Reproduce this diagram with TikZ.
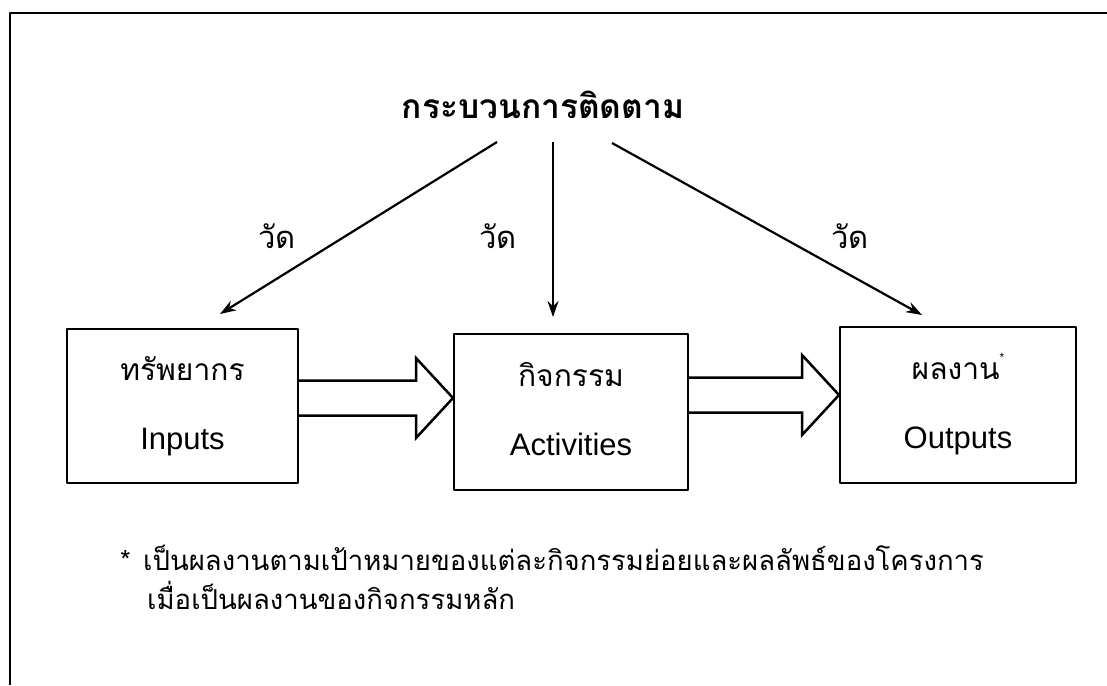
\documentclass[tikz,border=0pt]{standalone}
\usepackage{fontspec}
\setmainfont{Liberation Sans}
\newfontfamily\thai[Script=Thai]{Loma}
\usetikzlibrary{arrows.meta,calc}
\tikzset{
  box/.style={draw,line width=2pt,inner sep=0pt,align=center,text height=92pt,text depth=6pt,
    font=\fontsize{31}{69}\selectfont},
  meas/.style={line width=2.2pt,->},
  fat/.style={line width=2.5pt,line join=miter},
  lbl/.style={font=\thai\fontsize{31}{33}\selectfont,anchor=base},
  note/.style={font=\thai\fontsize{27.5}{30}\selectfont,anchor=base west,inner sep=0pt}
}
\def\thl{\thai\fontsize{30}{69}\selectfont}
\newcommand{\fatarrow}[3]{%
  \draw[fat] let \p1=(#1.east),\p2=(#2.west) in
    (\x1,\y1+#3+17.5pt) -- (\x2-37pt,\y1+#3+17.5pt) -- (\x2-37pt,\y1+#3+40pt)
    -- (\x2,\y1+#3) -- (\x2-37pt,\y1+#3-40pt) -- (\x2-37pt,\y1+#3-17.5pt)
    -- (\x1,\y1+#3-17.5pt);}
\begin{document}
\begin{tikzpicture}[x=1pt,y=-1pt,line join=round,>={Stealth[length=16pt,width=11pt]}]
\useasboundingbox (0,0) rectangle (1107,685);
\draw[line width=2pt] (10,685) |- (1107,13);
\node[font=\thai\bfseries\fontsize{33.5}{35}\selectfont,anchor=base] (mon) at (543,118) {กระบวนการติดตาม};
\node[box,minimum width=231pt,minimum height=154pt] (inp) at (182.5,406) {{\thl ทรัพยากร}\\Inputs};
\node[box,minimum width=234pt,minimum height=156pt] (act) at (571,412) {{\thl กิจกรรม}\\Activities};
\node[box,minimum width=236pt,minimum height=156pt] (outp) at (958,405) {{\thl ผลงาน}\raisebox{18pt}{\fontsize{12}{12}\selectfont *}\\Outputs};
\fatarrow{inp}{act}{8pt}
\fatarrow{act}{outp}{17pt}
\coordinate (s1) at (497,142);
\coordinate (s2) at (553,142);
\coordinate (s3) at (612,143);
\draw[meas] (s1) -- ([xshift=37.5pt,yshift=14pt]inp.north);
\draw[meas] (s2) -- ([xshift=-18pt,yshift=16pt]act.north);
\draw[meas] (s3) -- ([xshift=-36pt,yshift=11pt]outp.north);
\node[lbl] (w1) at (277,248) {วัด};
\node[lbl] (w2) at (498,248) {วัด};
\node[lbl] (w3) at (850,248) {วัด};
\node[note] (n1) at (120,570) {\makebox[23pt][l]{*}เป็นผลงานตามเป้าหมายของแต่ละกิจกรรมย่อยและผลลัพธ์ของโครงการ};
\node[note] (n2) at (147,609) {เมื่อเป็นผลงานของกิจกรรมหลัก};
\end{tikzpicture}
\end{document}
